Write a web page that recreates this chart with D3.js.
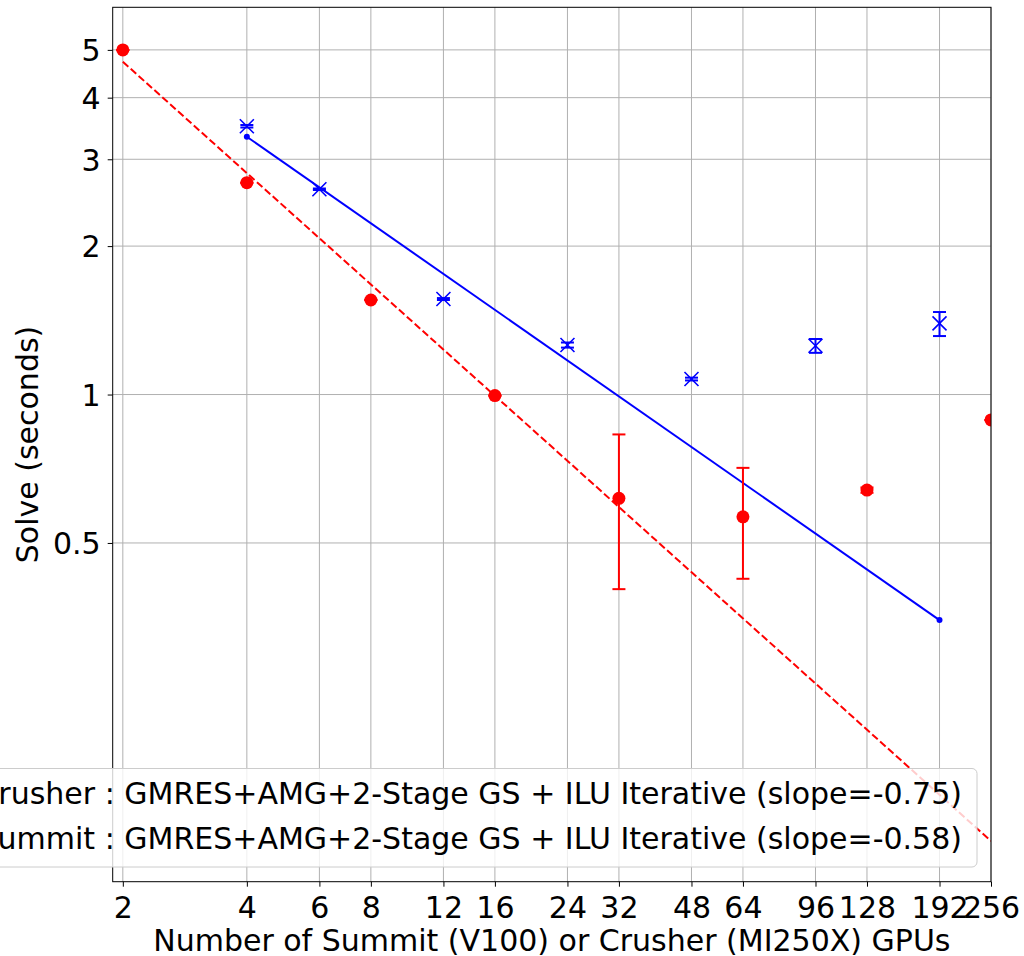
<!DOCTYPE html>
<meta charset="utf-8">
<style>
body {
  margin: 0;
  background: #fff;
  font-family: "DejaVu Sans";
}
text {
  font-family: "DejaVu Sans";
  font-size: 30px;
  fill: #000;
}
.grid line {
  stroke: #b0b0b0;
  stroke-width: 1;
}
</style>
<body>
<script src="https://cdn.jsdelivr.net/npm/d3@7"></script>
<script>

var width = 1024,
    height = 956;

var margin = {top: 7.3, right: 33, bottom: 74.3, left: 112.7};

// gpu counts (x ticks) and y ticks
var xTicks = [2, 4, 6, 8, 12, 16, 24, 32, 48, 64, 96, 128, 192, 256];
var yTicks = [0.5, 1, 2, 3, 4, 5];

// Crusher (red circles)
var crusherX = [2, 4, 8, 16, 32, 64, 128, 256];
var crusherY = [5.0, 2.69, 1.555, 0.995, 0.616, 0.565, 0.640, 0.888];
var crusherLo = [5.0, 2.69, 1.555, 0.995, 0.403, 0.423, 0.632, 0.888];
var crusherHi = [5.0, 2.69, 1.555, 0.995, 0.830, 0.710, 0.648, 0.888];

// Summit (blue x)
var summitX = [4, 6, 12, 24, 48, 96, 192];
var summitY = [3.50, 2.608, 1.562, 1.260, 1.075, 1.256, 1.394];
var summitLo = [3.48, 2.60, 1.555, 1.245, 1.068, 1.215, 1.314];
var summitHi = [3.52, 2.616, 1.569, 1.275, 1.082, 1.296, 1.470];

var crusherFitX = [2, 256];
var crusherFitY = [4.73, 0.1243];
var summitFitX = [4, 192];
var summitFitY = [3.333, 0.3488];

var legendLabels = [
  "Crusher : GMRES+AMG+2-Stage GS + ILU Iterative (slope=-0.75)",
  "Summit : GMRES+AMG+2-Stage GS + ILU Iterative (slope=-0.58)"
];

var w = width - margin.left - margin.right,
    h = height - margin.top - margin.bottom;

var x = d3.scaleLog().base(2)
    .domain([1.89, 256])
    .range([0, w]);

var y = d3.scaleLog()
    .domain([0.1028, 6.10])
    .range([h, 0]);

var svg = d3.select("body").append("svg")
    .attr("width", width)
    .attr("height", height);

var g = svg.append("g")
    .attr("transform", "translate(" + margin.left + "," + margin.top + ")");

svg.append("defs").append("clipPath")
    .attr("id", "clip")
  .append("rect")
    .attr("width", w)
    .attr("height", h);

// grid
g.append("g")
    .attr("class", "grid")
  .selectAll("line.gx")
    .data(xTicks)
  .enter().append("line")
    .attr("x1", function(d) { return x(d); })
    .attr("x2", function(d) { return x(d); })
    .attr("y1", 0)
    .attr("y2", h);

g.append("g")
    .attr("class", "grid")
  .selectAll("line.gy")
    .data(yTicks)
  .enter().append("line")
    .attr("x1", 0)
    .attr("x2", w)
    .attr("y1", function(d) { return y(d); })
    .attr("y2", function(d) { return y(d); });

// axes
var xAxis = d3.axisBottom(x)
    .tickValues(xTicks)
    .tickFormat(d3.format("d"))
    .tickSize(5)
    .tickPadding(5);

var yAxis = d3.axisLeft(y)
    .tickValues(yTicks)
    .tickFormat(function(d) { return d; })
    .tickSize(5)
    .tickPadding(7);

var gx = g.append("g")
    .attr("transform", "translate(0," + h + ")")
    .call(xAxis);

var gy = g.append("g")
    .call(yAxis);

[gx, gy].forEach(function(a) {
  a.select(".domain").remove();
  a.selectAll(".tick line").attr("stroke", "#000").attr("stroke-width", 1);
  a.selectAll(".tick text")
      .attr("fill", "#000")
      .style("font-family", "DejaVu Sans")
      .style("font-size", "30px");
});
gx.selectAll(".tick text").attr("dy", "0.87em");
gy.selectAll(".tick text").attr("dy", "0.36em");

var plot = g.append("g").attr("clip-path", "url(#clip)");

var line = d3.line()
    .x(function(d) { return x(d[0]); })
    .y(function(d) { return y(d[1]); });

// crusher fit, dashed
plot.append("path")
    .datum(d3.zip(crusherFitX, crusherFitY))
    .attr("d", line)
    .attr("fill", "none")
    .attr("stroke", "red")
    .attr("stroke-width", 2)
    .attr("stroke-dasharray", "7.4,3.2");

// summit fit, solid with point markers
plot.append("path")
    .datum(d3.zip(summitFitX, summitFitY))
    .attr("d", line)
    .attr("fill", "none")
    .attr("stroke", "blue")
    .attr("stroke-width", 2);

plot.selectAll(".fitdot")
    .data(d3.zip(summitFitX, summitFitY))
  .enter().append("circle")
    .attr("cx", function(d) { return x(d[0]); })
    .attr("cy", function(d) { return y(d[1]); })
    .attr("r", 3)
    .attr("fill", "blue");

// error bars
function errorBars(xs, lo, hi, color) {
  var data = d3.zip(xs, lo, hi);
  var eb = plot.append("g")
      .attr("stroke", color)
      .attr("stroke-width", 2);
  eb.selectAll(".v")
      .data(data)
    .enter().append("line")
      .attr("x1", function(d) { return x(d[0]); })
      .attr("x2", function(d) { return x(d[0]); })
      .attr("y1", function(d) { return y(d[1]); })
      .attr("y2", function(d) { return y(d[2]); });
  [1, 2].forEach(function(k) {
    eb.selectAll(".c" + k)
        .data(data)
      .enter().append("line")
        .attr("x1", function(d) { return x(d[0]) - 6.5; })
        .attr("x2", function(d) { return x(d[0]) + 6.5; })
        .attr("y1", function(d) { return y(d[k]); })
        .attr("y2", function(d) { return y(d[k]); });
  });
}

errorBars(crusherX, crusherLo, crusherHi, "red");
errorBars(summitX, summitLo, summitHi, "blue");

plot.selectAll(".crusher")
    .data(d3.zip(crusherX, crusherY))
  .enter().append("circle")
    .attr("cx", function(d) { return x(d[0]); })
    .attr("cy", function(d) { return y(d[1]); })
    .attr("r", 6.5)
    .attr("fill", "red");

plot.selectAll(".summit")
    .data(d3.zip(summitX, summitY))
  .enter().append("path")
    .attr("transform", function(d) { return "translate(" + x(d[0]) + "," + y(d[1]) + ")"; })
    .attr("d", "M-7,-7L7,7M-7,7L7,-7")
    .attr("stroke", "blue")
    .attr("stroke-width", 1.6)
    .attr("fill", "none");

// frame
g.append("rect")
    .attr("width", w)
    .attr("height", h)
    .attr("fill", "none")
    .attr("stroke", "#000")
    .attr("stroke-width", 1);

// axis labels
svg.append("text")
    .attr("x", margin.left + w / 2)
    .attr("y", 951)
    .attr("text-anchor", "middle")
    .text("Number of Summit (V100) or Crusher (MI250X) GPUs");

svg.append("text")
    .attr("transform", "translate(38," + (margin.top + h / 2) + ") rotate(-90)")
    .attr("text-anchor", "middle")
    .text("Solve (seconds)");

// legend (runs off the left edge, as in the original)
var legend = svg.append("g");
var textRight = 962;
var rows = [804, 849];

var texts = legend.selectAll(".ltext")
    .data(legendLabels)
  .enter().append("text")
    .attr("x", textRight)
    .attr("y", function(d, i) { return rows[i]; })
    .attr("text-anchor", "end")
    .text(function(d) { return d; });

var maxLen = 0;
texts.each(function() { maxLen = Math.max(maxLen, this.getComputedTextLength()); });
var textLeft = textRight - maxLen;

legend.insert("rect", "text")
    .attr("x", textLeft - 90)
    .attr("y", 768.5)
    .attr("width", textRight + 15 - (textLeft - 90))
    .attr("height", 98.5)
    .attr("rx", 5)
    .attr("fill", "#fff")
    .attr("fill-opacity", 0.8)
    .attr("stroke", "#cccccc")
    .attr("stroke-width", 1);

legend.append("line")
    .attr("x1", textLeft - 75).attr("x2", textLeft - 20)
    .attr("y1", rows[0] - 11).attr("y2", rows[0] - 11)
    .attr("stroke", "red").attr("stroke-width", 2)
    .attr("stroke-dasharray", "7.4,3.2");

legend.append("line")
    .attr("x1", textLeft - 75).attr("x2", textLeft - 20)
    .attr("y1", rows[1] - 11).attr("y2", rows[1] - 11)
    .attr("stroke", "blue").attr("stroke-width", 2);

</script>
